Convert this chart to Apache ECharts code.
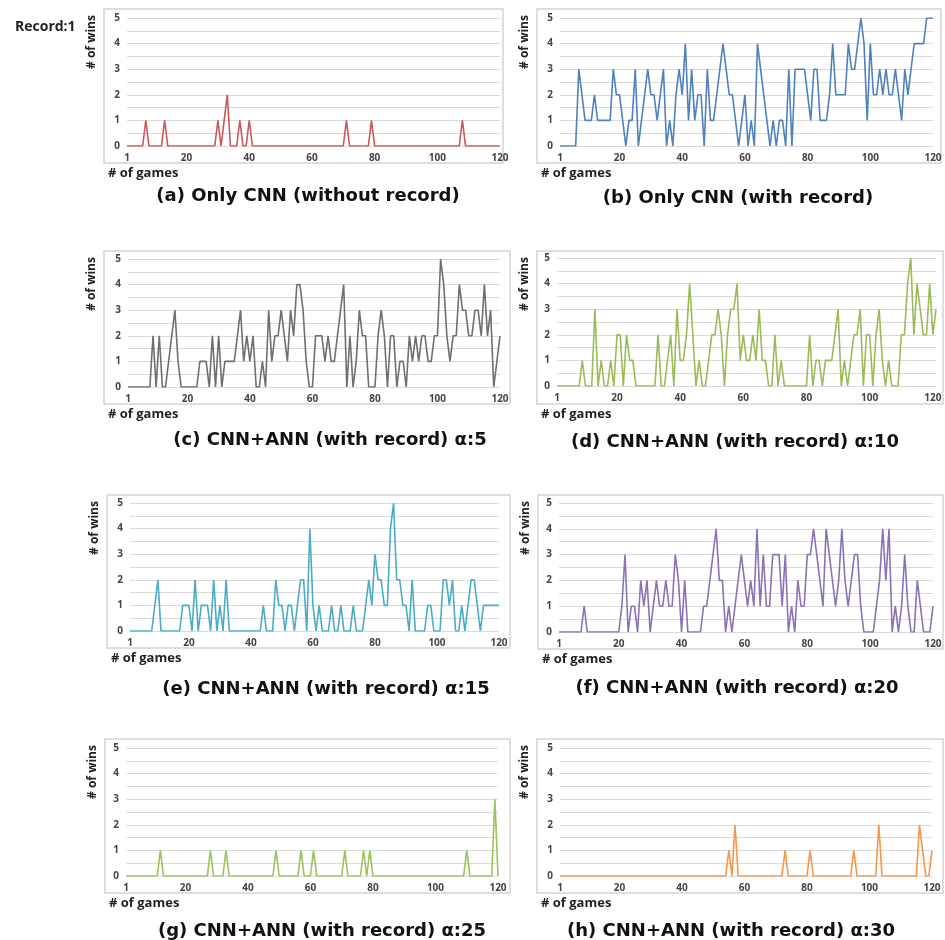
<!DOCTYPE html>
<html>
<head>
<meta charset="utf-8">
<script src="https://cdn.jsdelivr.net/npm/echarts@6/dist/echarts.min.js"></script>
<style>
  html, body { margin: 0; padding: 0; background: #fff; }
  #chart { width: 945px; height: 940px; }
</style>
</head>
<body>
<div id="chart"></div>
<script>
// 每局胜场数
const winsA = [
  0,0,0,0,0,0,1,0,0,0, 0,0,1,0,0,0,0,0,0,0,
  0,0,0,0,0,0,0,0,0,1, 0,1,2,0,0,0,1,0,0,1,
  0,0,0,0,0,0,0,0,0,0, 0,0,0,0,0,0,0,0,0,0,
  0,0,0,0,0,0,0,0,0,0, 1,0,0,0,0,0,0,0,1,0,
  0,0,0,0,0,0,0,0,0,0, 0,0,0,0,0,0,0,0,0,0,
  0,0,0,0,0,0,0,1,0,0, 0,0,0,0,0,0,0,0,0,0
];
const winsB = [
  0,0,0,0,0,0,3,2,1,1, 1,2,1,1,1,1,1,3,2,2,
  1,0,1,1,3,0,1,2,3,2, 2,1,2,3,0,1,0,2,3,2,
  4,1,3,1,2,2,0,3,1,1, 2,3,4,3,2,2,1,0,1,2,
  0,1,0,4,3,2,1,0,1,0, 1,1,0,3,0,3,3,3,3,2,
  1,3,3,1,1,1,2,4,2,2, 2,2,4,3,3,4,5,4,1,4,
  2,2,3,2,3,2,2,3,2,1, 3,2,3,4,4,4,4,5,5,5
];
const winsC = [
  0,0,0,0,0,0,0,0,2,0, 2,0,0,1,2,3,1,0,0,0,
  0,0,0,1,1,1,0,2,0,2, 0,1,1,1,1,2,3,1,2,1,
  2,0,0,1,0,3,1,2,2,3, 2,1,3,2,4,4,3,1,0,0,
  2,2,2,1,2,1,1,2,3,4, 0,2,0,1,3,2,2,0,0,0,
  2,3,2,0,2,2,0,1,1,0, 2,1,2,1,2,2,1,1,2,2,
  5,4,2,1,2,2,4,3,3,2, 2,3,3,2,4,2,3,0,1,2
];
const winsD = [
  0,0,0,0,0,0,0,0,1,0, 0,0,3,0,1,0,0,1,0,2,
  2,0,2,1,1,0,0,0,0,0, 0,0,2,0,0,1,2,0,3,1,
  1,2,4,2,0,1,0,0,1,2, 2,3,2,0,2,3,3,4,1,2,
  1,1,2,1,3,1,1,0,0,2, 0,1,0,0,0,0,0,0,0,0,
  2,0,1,1,0,1,1,1,2,3, 0,1,0,1,2,2,3,0,2,2,
  0,2,3,1,0,1,0,0,0,2, 2,4,5,2,4,3,2,2,4,2,
  3
];
const winsE = [
  0,0,0,0,0,0,0,0,1,2, 0,0,0,0,0,0,0,1,1,1,
  0,2,0,1,1,1,0,2,0,1, 0,2,0,0,0,0,0,0,0,0,
  0,0,0,1,0,0,0,2,1,1, 0,1,1,0,1,2,2,0,4,1,
  0,1,0,0,0,1,0,0,1,0, 0,0,1,0,0,0,1,2,1,3,
  2,2,1,1,4,5,2,2,1,1, 0,2,0,0,0,0,1,1,0,0,
  0,2,2,1,2,0,0,1,0,1, 2,2,1,0,1,1,1,1,1,1
];
const winsF = [
  0,0,0,0,0,0,0,0,1,0, 0,0,0,0,0,0,0,0,0,0,
  1,3,0,1,1,0,2,1,2,0, 1,2,1,1,2,1,1,3,2,0,
  2,0,0,0,0,0,1,1,2,3, 4,2,2,0,1,0,1,2,3,2,
  1,2,1,4,1,3,1,1,3,3, 3,1,3,0,1,0,2,1,1,3,
  3,4,3,2,1,4,3,2,1,2, 4,2,1,2,3,3,1,0,0,0,
  0,1,2,4,2,4,0,1,0,1, 3,1,0,0,2,1,0,0,0,1
];
const winsG = [
  0,0,0,0,0,0,0,0,0,0, 0,1,0,0,0,0,0,0,0,0,
  0,0,0,0,0,0,0,1,0,0, 0,0,1,0,0,0,0,0,0,0,
  0,0,0,0,0,0,0,0,1,0, 0,0,0,0,0,0,1,0,0,0,
  1,0,0,0,0,0,0,0,0,0, 1,0,0,0,0,0,1,0,1,0,
  0,0,0,0,0,0,0,0,0,0, 0,0,0,0,0,0,0,0,0,0,
  0,0,0,0,0,0,0,0,0,1, 0,0,0,0,0,0,0,0,3,0
];
const winsH = [
  0,0,0,0,0,0,0,0,0,0, 0,0,0,0,0,0,0,0,0,0,
  0,0,0,0,0,0,0,0,0,0, 0,0,0,0,0,0,0,0,0,0,
  0,0,0,0,0,0,0,0,0,0, 0,0,0,0,1,0,2,0,0,0,
  0,0,0,0,0,0,0,0,0,0, 0,0,1,0,0,0,0,0,0,0,
  1,0,0,0,0,0,0,0,0,0, 0,0,0,0,1,0,0,0,0,0,
  0,0,2,0,0,0,0,0,0,0, 0,0,0,0,0,2,1,0,0,1
];

const captions = [
  '(a) Only CNN (without record)',
  '(b) Only CNN (with record)',
  '(c) CNN+ANN (with record) α:5',
  '(d) CNN+ANN (with record) α:10',
  '(e) CNN+ANN (with record) α:15',
  '(f) CNN+ANN (with record) α:20',
  '(g) CNN+ANN (with record) α:25',
  '(h) CNN+ANN (with record) α:30'
];
const yTicks = [0, 1, 2, 3, 4, 5];
const xTicks = [1, 20, 40, 60, 80, 100, 120];

// 各面板位置
const panels = [
  { data: winsA, color: '#c9585a', plot: [127, 18, 373, 128], box: [104, 9, 399, 154], capX: 308, capY: 195 },
  { data: winsB, color: '#4f81bd', plot: [560, 18, 373, 128], box: [537, 9, 404, 154], capX: 738, capY: 197 },
  { data: winsC, color: '#6f6f6f', plot: [128, 259, 372, 128], box: [104, 251, 406, 153], capX: 330, capY: 439 },
  { data: winsD, color: '#9bbb59', plot: [557, 258, 379, 128], box: [537, 251, 406, 153], capX: 735, capY: 441 },
  { data: winsE, color: '#4bacc6', plot: [130, 503, 369, 128], box: [107, 495, 403, 153], capX: 326, capY: 688 },
  { data: winsF, color: '#8c72b5', plot: [559, 503, 374, 129], box: [538, 495, 405, 154], capX: 737, capY: 687 },
  { data: winsG, color: '#9bc35a', plot: [126, 748, 372, 128], box: [105, 739, 405, 154], capX: 322, capY: 930 },
  { data: winsH, color: '#f79646', plot: [560, 748, 372, 128], box: [537, 739, 406, 154], capX: 731, capY: 930 }
];

let grid = [], xAxis = [], yAxis = [], series = [], title = [], graphic = [];

title.push({
  text: 'Record:1', left: 15, top: 20, padding: 0,
  textStyle: { fontFamily: 'Open Sans', fontWeight: 'bold', fontSize: 14, color: '#222' }
});

panels.forEach(function (p, i) {
  const games = p.data.map(function (v, k) { return k + 1; });
  grid.push({ left: p.plot[0], top: p.plot[1], width: p.plot[2], height: p.plot[3] });
  xAxis.push({
    type: 'category', gridIndex: i, data: games, boundaryGap: false,
    axisLine: { show: false }, axisTick: { show: false },
    axisLabel: {
      interval: function (idx, val) { return xTicks.indexOf(Number(val)) >= 0; },
      fontFamily: 'Open Sans', fontWeight: 'bold', fontSize: 10, color: '#444', margin: 7
    }
  });
  yAxis.push({
    type: 'value', gridIndex: i, min: 0, max: 5, interval: 0.5,
    axisLabel: {
      formatter: function (v) { return yTicks.indexOf(v) >= 0 ? v : ''; },
      fontFamily: 'Open Sans', fontWeight: 'bold', fontSize: 10, color: '#444', margin: 7
    },
    splitLine: { lineStyle: { color: '#dadada', width: 1 } }
  });
  series.push({
    type: 'line', xAxisIndex: i, yAxisIndex: i, data: p.data,
    showSymbol: false, silent: true,
    lineStyle: { color: p.color, width: 1.6 }
  });
  // 外框
  graphic.push({
    type: 'rect', silent: true, z: -1,
    shape: { x: p.box[0], y: p.box[1], width: p.box[2], height: p.box[3] },
    style: { fill: 'none', stroke: '#d3d3d3', lineWidth: 1.5 }
  });
  // # of wins
  graphic.push({
    type: 'text', silent: true, rotation: Math.PI / 2,
    x: p.box[0] - 12, y: p.box[1] + 33,
    style: {
      text: '# of wins', textAlign: 'center', textVerticalAlign: 'middle',
      font: 'bold 12px "Open Sans"', fill: '#222'
    }
  });
  title.push({
    text: '# of games', left: p.box[0] + 4, top: p.box[1] + p.box[3] + 4, padding: 0,
    textStyle: { fontFamily: 'Open Sans', fontWeight: 'bold', fontSize: 13, color: '#222' }
  });
  title.push({
    text: captions[i], left: p.capX, top: p.capY - 8, textAlign: 'center', padding: 0,
    textStyle: { fontFamily: 'DejaVu Sans', fontWeight: 'bold', fontSize: 18, color: '#111' }
  });
});

const chart = echarts.init(document.getElementById('chart'));
chart.setOption({
  animation: false,
  title: title,
  grid: grid,
  xAxis: xAxis,
  yAxis: yAxis,
  series: series,
  graphic: graphic
});
</script>
</body>
</html>
